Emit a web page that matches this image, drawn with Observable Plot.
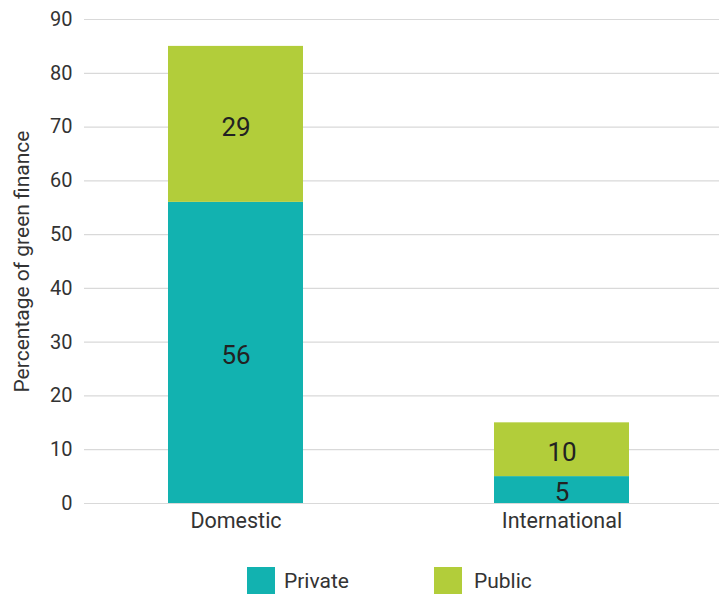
<!DOCTYPE html>
<html>
<head>
<meta charset="utf-8">
<script src="https://cdn.jsdelivr.net/npm/d3@7"></script>
<script src="https://cdn.jsdelivr.net/npm/@observablehq/plot@0.6"></script>
<style>
  html, body { margin: 0; padding: 0; background: #fff; }
  body { width: 719px; font-family: Roboto, sans-serif; color: #333; }
  .legend { position: relative; height: 49px; }
  .sw { position: absolute; top: 22px; width: 28px; height: 28px; }
  .lbl { position: absolute; top: 22px; font-size: 21px; line-height: 28px; color: #333; }
</style>
</head>
<body>
<div id="chart"></div>
<div class="legend" id="legend"></div>
<script>
const categories = ["Domestic", "International"];
const seriesNames = ["Private", "Public"];
const privateValues = [56, 5];
const publicValues = [29, 10];
const yTicks = [0, 10, 20, 30, 40, 50, 60, 70, 80, 90];
const colors = ["#12b2b0", "#b2cd3a"];

const rows = [];
categories.forEach((c, i) => {
  rows.push({category: c, type: seriesNames[0], value: privateValues[i]});
  rows.push({category: c, type: seriesNames[1], value: publicValues[i]});
});

const plot = Plot.plot({
  width: 719,
  height: 545,
  marginTop: 19,
  marginBottom: 42,
  marginLeft: 84,
  marginRight: 0,
  style: {fontFamily: "Roboto, sans-serif", fontSize: "20px", color: "#333", background: "#fff"},
  x: {domain: categories, range: [168, 629], paddingInner: 0.586, paddingOuter: 0, label: null},
  y: {domain: [0, 90], ticks: yTicks, label: null},
  color: {domain: seriesNames, range: colors},
  marks: [
    Plot.ruleY(yTicks, {stroke: "#d9d9d9", strokeWidth: 1.2}),
    Plot.barY(rows, Plot.stackY({x: "category", y: "value", fill: "type", z: "type"})),
    Plot.text(rows, Plot.stackY({x: "category", y: "value", z: "type", text: d => String(d.value), fontSize: 26, fill: "#222", dy: 3})),
    Plot.axisY({ticks: yTicks, tickSize: 0, tickPadding: 12, fontSize: 20, fill: "#333", label: null}),
    Plot.axisY({ticks: [], tickSize: 0, fontSize: 21, fill: "#333",
      label: "Percentage of green finance", labelAnchor: "center", labelArrow: "none", labelOffset: 70}),
    Plot.axisX({tickSize: 0, tickPadding: 9, fontSize: 21.5, fill: "#333", label: null})
  ]
});
document.getElementById("chart").appendChild(plot);

const legend = document.getElementById("legend");
const pos = [[247, 284], [434, 474]];
seriesNames.forEach((s, i) => {
  const sw = document.createElement("div");
  sw.className = "sw";
  sw.style.left = pos[i][0] + "px";
  sw.style.background = colors[i];
  legend.appendChild(sw);
  const t = document.createElement("div");
  t.className = "lbl";
  t.style.left = pos[i][1] + "px";
  t.textContent = s;
  legend.appendChild(t);
});
</script>
</body>
</html>
